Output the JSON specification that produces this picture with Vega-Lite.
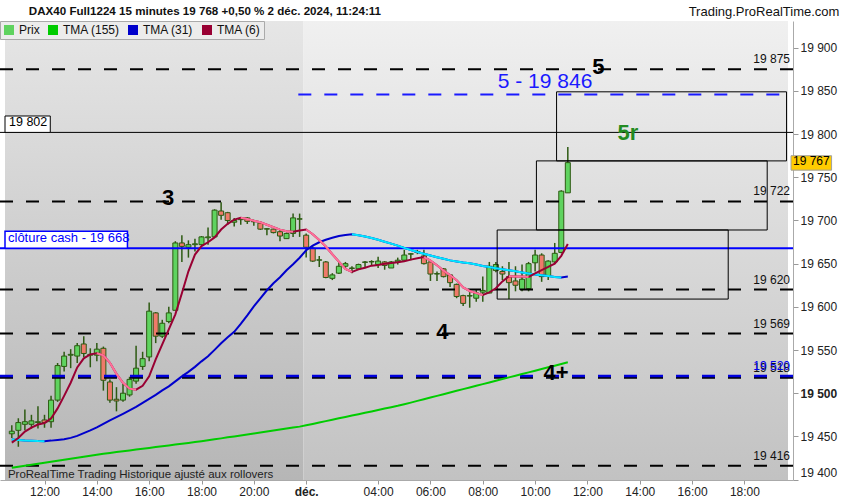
{
  "$schema": "https://vega.github.io/schema/vega-lite/v6.json",
  "width": 793,
  "height": 459,
  "autosize": {"type": "none"},
  "padding": {"left": 0, "top": 21, "right": 57, "bottom": 20},
  "background": "#ffffff",
  "config": {"view": {"stroke": null}, "font": "Liberation Sans"},
  "datasets": {
    "bars": [
      {"t":10.75,"o":19453,"h":19463,"l":19448,"c":19456,"a":19413.7,"b":19446.5,"bc":19446.5,"d":19442.8,"dp":null},
      {"t":11,"o":19457,"h":19471,"l":19438,"c":19466,"a":19414.8,"b":19445.9,"bc":19445.9,"d":19448.2,"dp":null},
      {"t":11.25,"o":19464,"h":19481,"l":19457,"c":19467,"a":19416,"b":19445.3,"bc":19445.3,"d":19455.6,"dp":null},
      {"t":11.5,"o":19464,"h":19475,"l":19459,"c":19468,"a":19417.2,"b":19445,"bc":19445,"d":19460.2,"dp":null},
      {"t":11.75,"o":19466,"h":19485,"l":19459,"c":19467,"a":19418.3,"b":19444.6,"bc":19444.6,"d":19463.7,"dp":null},
      {"t":12,"o":19469,"h":19475,"l":19460,"c":19466,"a":19419.5,"b":19444.5,"bc":19444.5,"d":19465.4,"dp":null},
      {"t":12.25,"o":19467,"h":19497,"l":19460,"c":19492,"a":19420.6,"b":19445.1,"bc":null,"d":19470.8,"dp":null},
      {"t":12.5,"o":19492,"h":19535,"l":19490,"c":19532,"a":19421.8,"b":19445.9,"bc":null,"d":19482.4,"dp":null},
      {"t":12.75,"o":19531,"h":19548,"l":19525,"c":19543,"a":19422.9,"b":19446.7,"bc":null,"d":19496.9,"dp":null},
      {"t":13,"o":19544,"h":19551,"l":19529,"c":19545,"a":19424.1,"b":19448.3,"bc":null,"d":19512.1,"dp":null},
      {"t":13.25,"o":19543,"h":19558,"l":19535,"c":19555,"a":19425.2,"b":19450.6,"bc":null,"d":19529.9,"dp":null},
      {"t":13.5,"o":19557,"h":19566,"l":19542,"c":19546,"a":19426.4,"b":19453.7,"bc":null,"d":19540.4,"dp":null},
      {"t":13.75,"o":19545,"h":19552,"l":19530,"c":19544,"a":19427.5,"b":19456.9,"bc":null,"d":19545,"dp":null},
      {"t":14,"o":19544,"h":19558,"l":19537,"c":19551,"a":19428.7,"b":19460.4,"bc":null,"d":19546.2,"dp":19546.2},
      {"t":14.25,"o":19552,"h":19554,"l":19503,"c":19515,"a":19429.8,"b":19464.5,"bc":null,"d":19543.9,"dp":19543.9},
      {"t":14.5,"o":19513,"h":19516,"l":19489,"c":19492,"a":19430.8,"b":19468.5,"bc":null,"d":19535.2,"dp":19535.2},
      {"t":14.75,"o":19493,"h":19507,"l":19479,"c":19491,"a":19431.8,"b":19472.2,"bc":null,"d":19522.4,"dp":19522.4},
      {"t":15,"o":19492,"h":19511,"l":19490,"c":19500,"a":19432.7,"b":19476.1,"bc":null,"d":19512,"dp":19512},
      {"t":15.25,"o":19498,"h":19519,"l":19496,"c":19516,"a":19433.7,"b":19480.1,"bc":null,"d":19505.3,"dp":19505.3},
      {"t":15.5,"o":19514,"h":19555,"l":19511,"c":19529,"a":19434.7,"b":19484.2,"bc":null,"d":19504.1,"dp":19504.1},
      {"t":15.75,"o":19531,"h":19548,"l":19527,"c":19540,"a":19435.6,"b":19488.8,"bc":null,"d":19508.6,"dp":null},
      {"t":16,"o":19542,"h":19605,"l":19537,"c":19595,"a":19436.6,"b":19493.4,"bc":null,"d":19519.5,"dp":null},
      {"t":16.25,"o":19593,"h":19594,"l":19558,"c":19566,"a":19437.6,"b":19498.1,"bc":null,"d":19539.2,"dp":null},
      {"t":16.5,"o":19566,"h":19585,"l":19564,"c":19581,"a":19438.6,"b":19503.3,"bc":null,"d":19556.6,"dp":null},
      {"t":16.75,"o":19583,"h":19600,"l":19581,"c":19593,"a":19439.5,"b":19507.9,"bc":null,"d":19574,"dp":null},
      {"t":17,"o":19596,"h":19676,"l":19596,"c":19674,"a":19440.5,"b":19513.7,"bc":null,"d":19591.4,"dp":null},
      {"t":17.25,"o":19674,"h":19683,"l":19652,"c":19670,"a":19441.5,"b":19519.5,"bc":null,"d":19615.7,"dp":null},
      {"t":17.5,"o":19669,"h":19677,"l":19657,"c":19672,"a":19442.4,"b":19524.7,"bc":null,"d":19641.2,"dp":null},
      {"t":17.75,"o":19672,"h":19679,"l":19664,"c":19673,"a":19443.4,"b":19530.5,"bc":null,"d":19660.6,"dp":null},
      {"t":18,"o":19672,"h":19682,"l":19672,"c":19681,"a":19444.4,"b":19536.9,"bc":null,"d":19670.4,"dp":null},
      {"t":18.25,"o":19680,"h":19692,"l":19672,"c":19681,"a":19445.5,"b":19542.7,"bc":null,"d":19674.8,"dp":null},
      {"t":18.5,"o":19681,"h":19713,"l":19681,"c":19712,"a":19446.6,"b":19550.2,"bc":null,"d":19680.4,"dp":null},
      {"t":18.75,"o":19711,"h":19721,"l":19701,"c":19706,"a":19447.7,"b":19557.8,"bc":null,"d":19689.5,"dp":null},
      {"t":19,"o":19709,"h":19710,"l":19695,"c":19700,"a":19448.9,"b":19564.7,"bc":null,"d":19696.1,"dp":null},
      {"t":19.25,"o":19698,"h":19703,"l":19693,"c":19700,"a":19450,"b":19571.1,"bc":null,"d":19701,"dp":null},
      {"t":19.5,"o":19701,"h":19704,"l":19695,"c":19702,"a":19451.1,"b":19580.4,"bc":null,"d":19703.1,"dp":19703.1},
      {"t":19.75,"o":19703,"h":19704,"l":19696,"c":19699,"a":19452.3,"b":19590.2,"bc":null,"d":19701.8,"dp":19701.8},
      {"t":20,"o":19699,"h":19701,"l":19694,"c":19698.5,"a":19453.4,"b":19600.6,"bc":null,"d":19699.7,"dp":19699.7},
      {"t":20.25,"o":19697,"h":19699,"l":19689,"c":19690,"a":19454.5,"b":19609.9,"bc":null,"d":19698,"dp":19698},
      {"t":20.5,"o":19690,"h":19691,"l":19683,"c":19690.5,"a":19455.7,"b":19619.2,"bc":null,"d":19695.1,"dp":19695.1},
      {"t":20.75,"o":19690,"h":19690.5,"l":19685,"c":19686,"a":19456.8,"b":19627.3,"bc":null,"d":19692.2,"dp":19692.2},
      {"t":21,"o":19687,"h":19689,"l":19676,"c":19682,"a":19457.9,"b":19634.3,"bc":null,"d":19689.4,"dp":19689.4},
      {"t":21.25,"o":19679,"h":19686,"l":19679,"c":19685,"a":19459.1,"b":19642.4,"bc":null,"d":19687.6,"dp":19687.6},
      {"t":21.5,"o":19685,"h":19708,"l":19681,"c":19703,"a":19460.2,"b":19649.3,"bc":null,"d":19687,"dp":19687},
      {"t":21.75,"o":19701.5,"h":19708,"l":19681,"c":19702,"a":19461.3,"b":19656.9,"bc":null,"d":19688.5,"dp":null},
      {"t":22,"o":19683,"h":19685,"l":19657,"c":19669,"a":19462.8,"b":19665.5,"bc":null,"d":19689.5,"dp":19689.5},
      {"t":22.25,"o":19668,"h":19670,"l":19652,"c":19653,"a":19464.4,"b":19670.8,"bc":null,"d":19684.1,"dp":19684.1},
      {"t":22.5,"o":19654,"h":19659,"l":19646,"c":19654.5,"a":19466,"b":19674.8,"bc":null,"d":19677.4,"dp":19677.4},
      {"t":22.75,"o":19652,"h":19653,"l":19633,"c":19634,"a":19467.7,"b":19677.7,"bc":null,"d":19669.9,"dp":19669.9},
      {"t":23,"o":19633,"h":19639,"l":19631,"c":19637,"a":19469.3,"b":19680,"bc":null,"d":19660.9,"dp":19660.9},
      {"t":23.25,"o":19639,"h":19653,"l":19638,"c":19647,"a":19470.9,"b":19682,"bc":null,"d":19652.3,"dp":19652.3},
      {"t":23.5,"o":19647,"h":19652,"l":19645,"c":19650,"a":19472.5,"b":19683.2,"bc":null,"d":19643.9,"dp":19643.9},
      {"t":23.75,"o":19645,"h":19647,"l":19639,"c":19644.5,"a":19474.1,"b":19684.1,"bc":19684.1,"d":19640.4,"dp":19640.4},
      {"t":24,"o":19644,"h":19650,"l":19643,"c":19649,"a":19475.7,"b":19682.9,"bc":19682.9,"d":19643.4,"dp":null},
      {"t":24.25,"o":19651.5,"h":19653,"l":19645,"c":19652,"a":19477.3,"b":19681.4,"bc":19681.4,"d":19645.3,"dp":null},
      {"t":24.5,"o":19652,"h":19654,"l":19648,"c":19652.5,"a":19478.9,"b":19679.7,"bc":19679.7,"d":19647.7,"dp":null},
      {"t":24.75,"o":19649,"h":19658,"l":19645,"c":19653,"a":19480.5,"b":19677.6,"bc":19677.6,"d":19648.5,"dp":null},
      {"t":25,"o":19652,"h":19653,"l":19643,"c":19648,"a":19482.2,"b":19675.4,"bc":19675.4,"d":19649.9,"dp":null},
      {"t":25.25,"o":19645,"h":19653,"l":19645,"c":19652,"a":19483.8,"b":19673.2,"bc":19673.2,"d":19650.8,"dp":null},
      {"t":25.5,"o":19652,"h":19657,"l":19649,"c":19654,"a":19485.4,"b":19670.9,"bc":19670.9,"d":19651.6,"dp":null},
      {"t":25.75,"o":19654,"h":19666,"l":19652,"c":19660,"a":19487.2,"b":19668.3,"bc":19668.3,"d":19652.9,"dp":null},
      {"t":26,"o":19661,"h":19662,"l":19654,"c":19661.5,"a":19489.1,"b":19665.8,"bc":19665.8,"d":19654.7,"dp":null},
      {"t":26.25,"o":19663,"h":19666,"l":19661,"c":19664,"a":19491.1,"b":19663.5,"bc":19663.5,"d":19656.2,"dp":null},
      {"t":26.5,"o":19659,"h":19666,"l":19649,"c":19650,"a":19493,"b":19661.4,"bc":19661.4,"d":19657.7,"dp":19657.7},
      {"t":26.75,"o":19652,"h":19652.5,"l":19630,"c":19638,"a":19495,"b":19659.4,"bc":19659.4,"d":19653.6,"dp":19653.6},
      {"t":27,"o":19638,"h":19641,"l":19630,"c":19638.5,"a":19496.9,"b":19657.4,"bc":19657.4,"d":19648.2,"dp":19648.2},
      {"t":27.25,"o":19644,"h":19645,"l":19634,"c":19635,"a":19498.9,"b":19655.6,"bc":19655.6,"d":19642,"dp":19642},
      {"t":27.5,"o":19637,"h":19638,"l":19623,"c":19628,"a":19500.8,"b":19653.8,"bc":19653.8,"d":19636.7,"dp":19636.7},
      {"t":27.75,"o":19626,"h":19627,"l":19610,"c":19612,"a":19502.8,"b":19652.6,"bc":19652.6,"d":19630.9,"dp":19630.9},
      {"t":28,"o":19613,"h":19614,"l":19601,"c":19604,"a":19504.7,"b":19651.4,"bc":19651.4,"d":19622.6,"dp":19622.6},
      {"t":28.25,"o":19612.5,"h":19617,"l":19599,"c":19613,"a":19506.6,"b":19650.4,"bc":19650.4,"d":19618.4,"dp":19618.4},
      {"t":28.5,"o":19610,"h":19620,"l":19606,"c":19616,"a":19508.6,"b":19649,"bc":19649,"d":19615.9,"dp":19615.9},
      {"t":28.75,"o":19617,"h":19635,"l":19606,"c":19619,"a":19510.5,"b":19647.2,"bc":19647.2,"d":19613.7,"dp":19613.7},
      {"t":29,"o":19616,"h":19652,"l":19616,"c":19647,"a":19512.5,"b":19646.1,"bc":19646.1,"d":19616.8,"dp":null},
      {"t":29.25,"o":19642,"h":19652,"l":19640,"c":19649,"a":19514.4,"b":19644.8,"bc":19644.8,"d":19621.5,"dp":null},
      {"t":29.5,"o":19641,"h":19647,"l":19631,"c":19638,"a":19516.4,"b":19643.6,"bc":19643.6,"d":19629.5,"dp":null},
      {"t":29.75,"o":19635,"h":19652,"l":19609,"c":19628,"a":19518.3,"b":19642.4,"bc":19642.4,"d":19635.5,"dp":19635.5},
      {"t":30,"o":19630,"h":19647,"l":19618,"c":19625,"a":19520.2,"b":19641.1,"bc":19641.1,"d":19635.2,"dp":19635.2},
      {"t":30.25,"o":19620,"h":19649,"l":19618,"c":19632,"a":19522.2,"b":19639.8,"bc":19639.8,"d":19635,"dp":19635},
      {"t":30.5,"o":19621,"h":19652,"l":19618,"c":19650,"a":19524.1,"b":19638.5,"bc":19638.5,"d":19634.6,"dp":19634.6},
      {"t":30.75,"o":19651,"h":19666,"l":19641,"c":19660,"a":19526.1,"b":19637.5,"bc":19637.5,"d":19638.7,"dp":null},
      {"t":31,"o":19660,"h":19662,"l":19629,"c":19635,"a":19528,"b":19636.6,"bc":19636.6,"d":19642.6,"dp":null},
      {"t":31.25,"o":19636,"h":19654,"l":19631,"c":19653,"a":19530,"b":19635.6,"bc":19635.6,"d":19646.2,"dp":null},
      {"t":31.5,"o":19652,"h":19674,"l":19650,"c":19662,"a":19531.9,"b":19634.6,"bc":19634.6,"d":19650.1,"dp":null},
      {"t":31.75,"o":19663,"h":19735,"l":19662,"c":19734,"a":19533.9,"b":19634,"bc":19634,"d":19659.1,"dp":null},
      {"t":32,"o":19732,"h":19785,"l":19732,"c":19767,"a":19535.8,"b":19635.1,"bc":null,"d":19672.8,"dp":null}
    ],
    "dashLevels": [
      {"v":19875,"text":"19 875"},
      {"v":19722,"text":"19 722"},
      {"v":19620,"text":"19 620"},
      {"v":19569,"text":"19 569"},
      {"v":19518,"text":"19 518"},
      {"v":19416,"text":"19 416"}
    ],
    "boxes": [
      {"t1":29.3,"t2":38.13,"lo":19609,"hi":19689},
      {"t1":30.8,"t2":39.62,"lo":19689,"hi":19769},
      {"t1":31.57,"t2":40.36,"lo":19769,"hi":19849}
    ],
    "waves": [
      {"t":16.72,"v":19726,"text":"3"},
      {"t":27.21,"v":19570.5,"text":"4"},
      {"t":31.55,"v":19523,"text":"4+"},
      {"t":33.17,"v":19877.6,"text":"5"}
    ]
  },
  "layer": [
    {
      "data": {"values": [{"s":10.49,"e":21.9,"lo":19399.5,"hi":19931}]},
      "mark": {"type":"rect","color":{"gradient":"linear","x1":0,"y1":0,"x2":0,"y2":1,"stops":[{"offset":0,"color":"#e6e6e6"},{"offset":1,"color":"#b6b6b6"}]}},
      "encoding": {
        "x": {"field":"s","type":"quantitative","title":null,
          "scale":{"domain":[10.49,40.415],"nice":false,"zero":false},
          "axis":{"orient":"bottom","grid":false,"values":[12,14,16,18,20,22,24.75,26.75,28.75,30.75,32.75,34.75,36.75,38.75],
            "labelExpr":"datum.value == 22 ? 'déc.' : format(datum.value < 22 ? datum.value : datum.value - 20.75, '02d') + ':00'",
            "labelFontWeight":{"condition":{"test":"datum.value == 22","value":"bold"},"value":"normal"},
            "labelFontSize":12,"labelColor":"#222222","labelFont":"Liberation Sans","labelPadding":2,
            "tickSize":4,"tickColor":"#999999","domainColor":"#aaaaaa","labelFlush":false,"labelOverlap":false}},
        "x2": {"field":"e"},
        "y": {"field":"lo","type":"quantitative","title":null,
          "scale":{"domain":[19399.5,19931],"nice":false,"zero":false},
          "axis":{"orient":"right","grid":false,"values":[19400,19450,19500,19550,19600,19650,19700,19750,19800,19850,19900],
            "labelExpr":"replace(format(datum.value, ','), ',', ' ')",
            "labelFontWeight":{"condition":{"test":"datum.value == 19500","value":"bold"},"value":"normal"},
            "labelBaseline":{"condition":{"test":"datum.value == 19400","value":"bottom"},"value":"middle"},
            "labelFontSize":12,"labelColor":"#222222","labelFont":"Liberation Sans","labelPadding":2,
            "tickSize":5,"tickColor":"#999999","domainColor":"#aaaaaa","labelFlush":false,"labelOverlap":false}},
        "y2": {"field":"hi"}
      }
    },
    {
      "data": {"values": [{"s":21.9,"e":40.415,"lo":19399.5,"hi":19931}]},
      "mark": {"type":"rect","color":{"gradient":"linear","x1":0,"y1":0,"x2":0,"y2":1,"stops":[{"offset":0,"color":"#f0f0f0"},{"offset":1,"color":"#c2c2c2"}]}},
      "encoding": {
        "x": {"field":"s","type":"quantitative","title":null},
        "x2": {"field":"e"},
        "y": {"field":"lo","type":"quantitative","title":null},
        "y2": {"field":"hi"}
      }
    },
    {
      "data": {"name":"bars"},
      "mark": {"type":"rule","color":"#2d5a12","strokeWidth":1.5},
      "encoding": {
        "x": {"field":"t","type":"quantitative","title":null},
        "y": {"field":"l","type":"quantitative","title":null},
        "y2": {"field":"h"}
      }
    },
    {
      "data": {"name":"bars"},
      "mark": {"type":"bar","size":5,"stroke":"#2d5a12","strokeWidth":1},
      "encoding": {
        "x": {"field":"t","type":"quantitative","title":null},
        "y": {"field":"o","type":"quantitative","title":null},
        "y2": {"field":"c"},
        "fill": {"condition":{"test":"datum.c >= datum.o","value":"#5fd35f"},"value":"#ef7a6a"}
      }
    },
    {
      "data": {"name":"dashLevels"},
      "mark": {"type":"rule","color":"#000000","strokeWidth":2,"strokeDash":[13,13]},
      "encoding": {"y": {"field":"v","type":"quantitative","title":null}}
    },
    {
      "data": {"values":[{"v":19520}]},
      "mark": {"type":"rule","color":"#0000dd","strokeWidth":2.5,"strokeDash":[13,13]},
      "encoding": {"y": {"field":"v","type":"quantitative","title":null}}
    },
    {
      "data": {"values":[{"v":19846,"from":21.7,"to":40.415}]},
      "mark": {"type":"rule","color":"#1a1aff","strokeWidth":2,"strokeDash":[13,13]},
      "encoding": {
        "x": {"field":"from","type":"quantitative","title":null},
        "x2": {"field":"to"},
        "y": {"field":"v","type":"quantitative","title":null}
      }
    },
    {
      "data": {"values":[{"v":19802}]},
      "mark": {"type":"rule","color":"#000000","strokeWidth":1},
      "encoding": {"y": {"field":"v","type":"quantitative","title":null}}
    },
    {
      "data": {"values":[{"v":19668}]},
      "mark": {"type":"rule","color":"#0000ff","strokeWidth":2},
      "encoding": {"y": {"field":"v","type":"quantitative","title":null}}
    },
    {
      "data": {"name":"boxes"},
      "mark": {"type":"rect","fillOpacity":0,"stroke":"#000000","strokeWidth":1},
      "encoding": {
        "x": {"field":"t1","type":"quantitative","title":null},
        "x2": {"field":"t2"},
        "y": {"field":"lo","type":"quantitative","title":null},
        "y2": {"field":"hi"}
      }
    },
    {
      "data": {"name":"bars"},
      "mark": {"type":"line","color":"#00cc00","strokeWidth":2},
      "encoding": {
        "x": {"field":"t","type":"quantitative","title":null},
        "y": {"field":"a","type":"quantitative","title":null}
      }
    },
    {
      "data": {"name":"bars"},
      "mark": {"type":"line","color":"#0000cc","strokeWidth":2},
      "encoding": {
        "x": {"field":"t","type":"quantitative","title":null},
        "y": {"field":"b","type":"quantitative","title":null}
      }
    },
    {
      "data": {"name":"bars"},
      "mark": {"type":"line","color":"#00e8ff","strokeWidth":2,"invalid":"break-paths-filter-domains"},
      "encoding": {
        "x": {"field":"t","type":"quantitative","title":null},
        "y": {"field":"bc","type":"quantitative","title":null}
      }
    },
    {
      "data": {"name":"bars"},
      "mark": {"type":"line","color":"#990033","strokeWidth":2},
      "encoding": {
        "x": {"field":"t","type":"quantitative","title":null},
        "y": {"field":"d","type":"quantitative","title":null}
      }
    },
    {
      "data": {"name":"bars"},
      "mark": {"type":"line","color":"#ff6f9a","strokeWidth":2,"invalid":"break-paths-filter-domains"},
      "encoding": {
        "x": {"field":"t","type":"quantitative","title":null},
        "y": {"field":"dp","type":"quantitative","title":null}
      }
    },
    {
      "data": {"name":"waves"},
      "mark": {"type":"text","fontSize":22,"fontWeight":"bold","color":"#000000","align":"center","baseline":"middle"},
      "encoding": {
        "x": {"field":"t","type":"quantitative","title":null},
        "y": {"field":"v","type":"quantitative","title":null},
        "text": {"field":"text"}
      }
    },
    {
      "data": {"values":[{"t":34.3,"v":19801,"text":"5r"}]},
      "mark": {"type":"text","fontSize":22,"fontWeight":"bold","color":"#228b22","align":"center","baseline":"middle"},
      "encoding": {
        "x": {"field":"t","type":"quantitative","title":null},
        "y": {"field":"v","type":"quantitative","title":null},
        "text": {"field":"text"}
      }
    },
    {
      "data": {"values":[{"t":31.13,"v":19860.3,"text":"5 - 19 846"}]},
      "mark": {"type":"text","fontSize":21,"color":"#1a1aff","align":"center","baseline":"middle"},
      "encoding": {
        "x": {"field":"t","type":"quantitative","title":null},
        "y": {"field":"v","type":"quantitative","title":null},
        "text": {"field":"text"}
      }
    },
    {
      "data": {"name":"dashLevels"},
      "mark": {"type":"text","fontSize":12,"color":"#111111","align":"right","baseline":"bottom","dx":-3,"dy":-3},
      "encoding": {
        "x": {"value":"width"},
        "y": {"field":"v","type":"quantitative","title":null},
        "text": {"field":"text"}
      }
    },
    {
      "data": {"values":[{"v":19520,"text":"19 520"}]},
      "mark": {"type":"text","fontSize":12,"color":"#0000ee","align":"right","baseline":"bottom","dx":-3,"dy":-3},
      "encoding": {
        "x": {"value":"width"},
        "y": {"field":"v","type":"quantitative","title":null},
        "text": {"field":"text"}
      }
    },
    {
      "data": {"values":[{"t1":10.49,"t2":12.22,"lo":19802,"hi":19821,"text":"19 802"}]},
      "layer": [
        {"mark": {"type":"rect","fill":"#ffffff","stroke":"#000000","strokeWidth":1},
         "encoding": {"x":{"field":"t1","type":"quantitative","title":null},"x2":{"field":"t2"},"y":{"field":"lo","type":"quantitative","title":null},"y2":{"field":"hi"}}},
        {"mark": {"type":"text","fontSize":12.5,"color":"#000000","align":"left","baseline":"bottom","dx":4,"dy":-3},
         "encoding": {"x":{"field":"t1","type":"quantitative","title":null},"y":{"field":"lo","type":"quantitative","title":null},"text":{"field":"text"}}}
      ]
    },
    {
      "data": {"values":[{"t1":10.49,"t2":15.17,"lo":19668,"hi":19687.6,"text":"clôture cash -  19 668"}]},
      "layer": [
        {"mark": {"type":"rect","fill":"#ffffff","stroke":"#0000ff","strokeWidth":1.5},
         "encoding": {"x":{"field":"t1","type":"quantitative","title":null},"x2":{"field":"t2"},"y":{"field":"lo","type":"quantitative","title":null},"y2":{"field":"hi"}}},
        {"mark": {"type":"text","fontSize":13,"color":"#0000ff","align":"left","baseline":"bottom","dx":3,"dy":-3},
         "encoding": {"x":{"field":"t1","type":"quantitative","title":null},"y":{"field":"lo","type":"quantitative","title":null},"text":{"field":"text"}}}
      ]
    },
    {
      "data": {"values":[{"t1":40.53,"t2":42.08,"lo":19758.3,"hi":19775,"text":"19 767"}]},
      "layer": [
        {"mark": {"type":"rect","fill":"#ffcc00","stroke":"#a0a0a0","strokeWidth":1},
         "encoding": {"x":{"field":"t1","type":"quantitative","title":null},"x2":{"field":"t2"},"y":{"field":"lo","type":"quantitative","title":null},"y2":{"field":"hi"}}},
        {"mark": {"type":"text","fontSize":12,"color":"#000000","align":"left","baseline":"bottom","dx":2,"dy":-2},
         "encoding": {"x":{"field":"t1","type":"quantitative","title":null},"y":{"field":"lo","type":"quantitative","title":null},"text":{"field":"text"}}}
      ]
    },
    {
      "data": {"values":[{"t":11.4,"v":19941.4,"text":"DAX40 Full1224 15 minutes 19 768 +0,50 % 2 déc. 2024, 11:24:11"}]},
      "mark": {"type":"text","fontSize":11.6,"fontWeight":"bold","color":"#111111","align":"left","baseline":"middle"},
      "encoding": {
        "x": {"field":"t","type":"quantitative","title":null},
        "y": {"field":"v","type":"quantitative","title":null},
        "text": {"field":"text"}
      }
    },
    {
      "data": {"values":[{"t":42.38,"v":19941.4,"text":"Trading.ProRealTime.com"}]},
      "mark": {"type":"text","fontSize":13,"color":"#111111","align":"right","baseline":"middle"},
      "encoding": {
        "x": {"field":"t","type":"quantitative","title":null},
        "y": {"field":"v","type":"quantitative","title":null},
        "text": {"field":"text"}
      }
    },
    {
      "data": {"values":[{"t":10.6,"v":19404.8,"text":"ProRealTime Trading  Historique ajusté aux rollovers"}]},
      "mark": {"type":"text","fontSize":11.5,"color":"#222222","align":"left","baseline":"middle"},
      "encoding": {
        "x": {"field":"t","type":"quantitative","title":null},
        "y": {"field":"v","type":"quantitative","title":null},
        "text": {"field":"text"}
      }
    },
    {
      "data": {"values":[{"name":"Prix"},{"name":"TMA (155)"},{"name":"TMA (31)"},{"name":"TMA (6)"}]},
      "mark": {"type":"square","opacity":0,"filled":true},
      "encoding": {
        "color": {"field":"name","type":"nominal",
          "scale":{"domain":["Prix","TMA (155)","TMA (31)","TMA (6)"],"range":["#5fd35f","#00cc00","#0000cc","#990033"]},
          "legend":{"title":null,"orient":"top-left","offset":0,"direction":"horizontal","columns":4,
            "symbolType":"square","symbolSize":100,"symbolOpacity":1,"symbolStrokeWidth":0,
            "labelFontSize":12,"labelColor":"#111111","labelFont":"Liberation Sans","labelOffset":4,
            "columnPadding":7,"padding":3,"fillColor":"#ececec","strokeColor":"#aaaaaa"}}
      }
    }
  ]
}
